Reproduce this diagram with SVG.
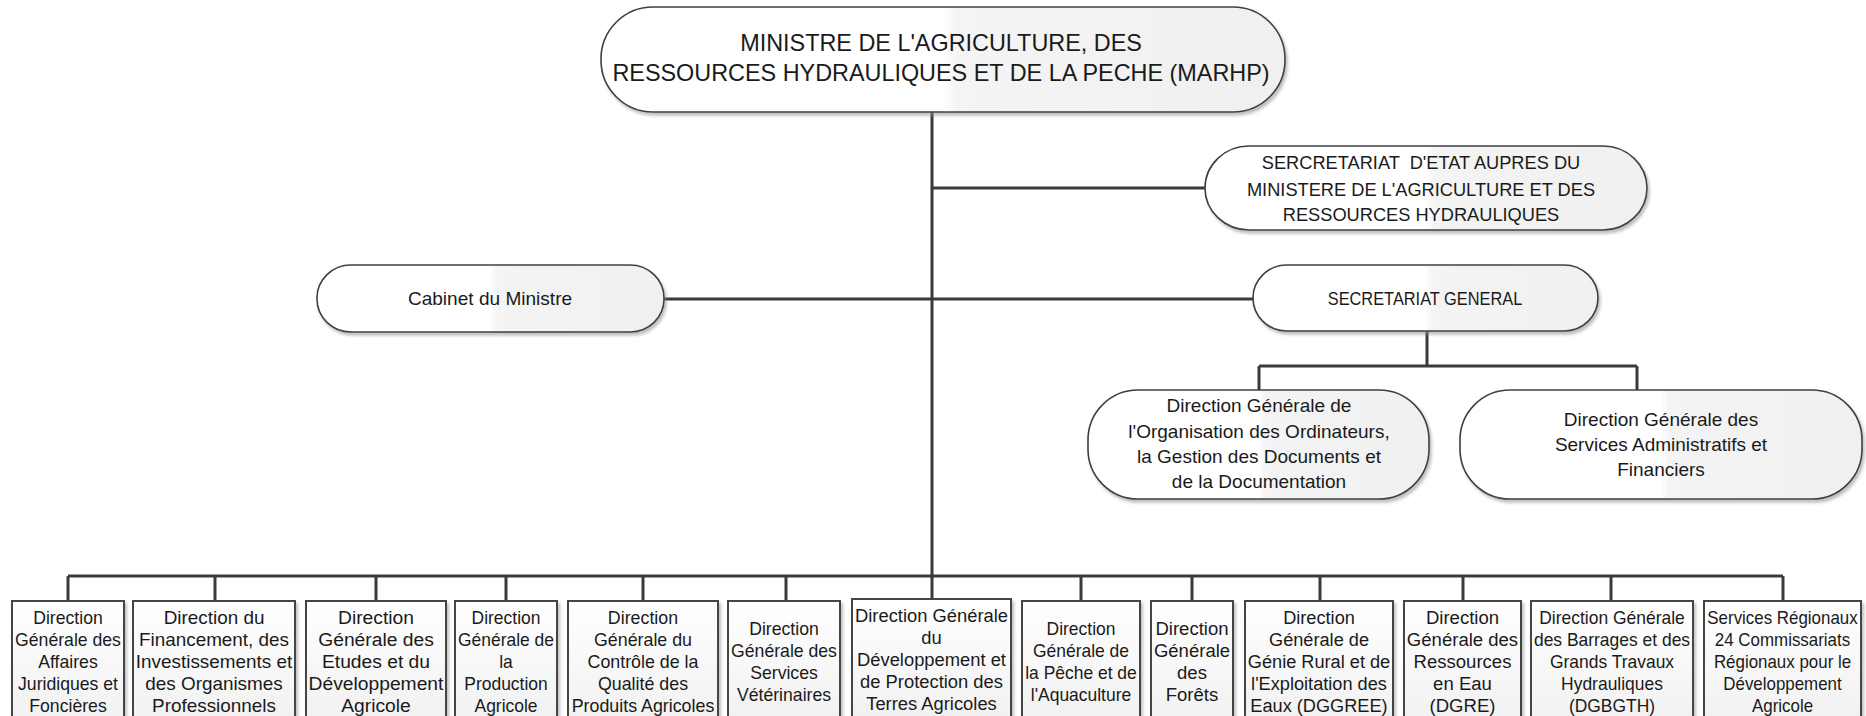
<svg xmlns="http://www.w3.org/2000/svg" width="1866" height="716" viewBox="0 0 1866 716">
<defs>
<linearGradient id="gRound" x1="0" y1="0" x2="1" y2="0">
<stop offset="0" stop-color="#ffffff"/><stop offset="0.5" stop-color="#ffffff"/><stop offset="0.52" stop-color="#f4f4f4"/><stop offset="1" stop-color="#f0f0f0"/>
</linearGradient>
<linearGradient id="gBox" x1="0" y1="0" x2="0" y2="1">
<stop offset="0" stop-color="#ffffff"/><stop offset="1" stop-color="#f0f0f0"/>
</linearGradient>
<filter id="sh" x="-5%" y="-5%" width="112%" height="120%">
<feDropShadow dx="2" dy="3" stdDeviation="1.5" flood-color="#8a8a8a" flood-opacity="0.55"/>
</filter>
</defs>
<style>
.rnd{fill:url(#gRound);stroke:#3f3f3f;stroke-width:1.6;filter:url(#sh)}
.box{fill:url(#gBox);stroke:#444;stroke-width:2;filter:url(#sh)}
text{font-family:"Liberation Sans",Arial,sans-serif;fill:#1a1a1a;text-anchor:middle}
.t24{font-size:24px}
.t19{font-size:19px}
.t18{font-size:18px}
.con line{stroke:#3a3a3a;stroke-width:3;fill:none}
</style>
<rect x="0" y="0" width="1866" height="716" fill="#ffffff"/>

<g id="connectors" class="con">
<line x1="932" y1="112" x2="932" y2="577.5"/>
<line x1="932" y1="188" x2="1205" y2="188"/>
<line x1="664" y1="299" x2="1253" y2="299"/>
<line x1="1427" y1="331" x2="1427" y2="366"/>
<line x1="1259" y1="366" x2="1637" y2="366"/>
<line x1="1259" y1="366" x2="1259" y2="390"/>
<line x1="1637" y1="366" x2="1637" y2="390"/>
<line x1="68" y1="576" x2="1783" y2="576"/>
<line x1="68" y1="576" x2="68" y2="601"/>
<line x1="215" y1="576" x2="215" y2="601"/>
<line x1="376" y1="576" x2="376" y2="601"/>
<line x1="506" y1="576" x2="506" y2="601"/>
<line x1="643" y1="576" x2="643" y2="601"/>
<line x1="786" y1="576" x2="786" y2="601"/>
<line x1="932" y1="576" x2="932" y2="599"/>
<line x1="1081" y1="576" x2="1081" y2="601"/>
<line x1="1192" y1="576" x2="1192" y2="601"/>
<line x1="1320" y1="576" x2="1320" y2="601"/>
<line x1="1463" y1="576" x2="1463" y2="601"/>
<line x1="1611" y1="576" x2="1611" y2="601"/>
<line x1="1783" y1="576" x2="1783" y2="601"/>
</g>

<g id="n-ministre">
<rect class="rnd" x="601" y="7" width="684" height="105" rx="52" ry="52"/>
<g transform="translate(941,0) scale(0.975,1)">
<text class="t24" x="0" y="51">MINISTRE DE L'AGRICULTURE, DES</text>
<text class="t24" x="0" y="81">RESSOURCES HYDRAULIQUES ET DE LA PECHE (MARHP)</text>
</g>
</g>

<g id="n-secretariat-etat">
<rect class="rnd" x="1205" y="146" width="442" height="84" rx="44" ry="42"/>
<g transform="translate(1421,0) scale(0.96,1)">
<text class="t19" x="0" y="169.5" xml:space="preserve">SERCRETARIAT  D'ETAT AUPRES DU</text>
<text class="t19" x="0" y="196">MINISTERE DE L'AGRICULTURE ET DES</text>
<text class="t19" x="0" y="221.5">RESSOURCES HYDRAULIQUES</text>
</g>
</g>

<g id="n-cabinet">
<rect class="rnd" x="317" y="265" width="347" height="67" rx="34" ry="33"/>
<g transform="translate(490,0) scale(1.06,1)">
<text class="t18" x="0" y="305.5">Cabinet du Ministre</text>
</g>
</g>

<g id="n-sg">
<rect class="rnd" x="1253" y="265" width="345" height="66" rx="34" ry="33"/>
<g transform="translate(1425,0) scale(0.91,1)">
<text class="t18" x="0" y="305.5">SECRETARIAT GENERAL</text>
</g>
</g>

<g id="n-dg-organisation">
<rect class="rnd" x="1088" y="390" width="341" height="109" rx="50" ry="50"/>
<g transform="translate(1259,0)">
<text class="t19" x="0" y="411.5">Direction Générale de</text>
<text class="t19" x="0" y="437.5">l'Organisation des Ordinateurs,</text>
<text class="t19" x="0" y="462.5">la Gestion des Documents et</text>
<text class="t19" x="0" y="487.5">de la Documentation</text>
</g>
</g>

<g id="n-dg-services-admin">
<rect class="rnd" x="1460" y="390" width="402" height="109" rx="50" ry="50"/>
<g transform="translate(1661,0)">
<text class="t19" x="0" y="425.5">Direction Générale des</text>
<text class="t19" x="0" y="450.5">Services Administratifs et</text>
<text class="t19" x="0" y="475.5">Financiers</text>
</g>
</g>

<g id="b1">
<rect class="box" x="12" y="601" width="112" height="130"/>
<g transform="translate(68,0) scale(0.98,1)">
<text class="t18" x="0" y="624.5">Direction</text>
<text class="t18" x="0" y="646.5">Générale des</text>
<text class="t18" x="0" y="668.5">Affaires</text>
<text class="t18" x="0" y="690.5">Juridiques et</text>
<text class="t18" x="0" y="712.5">Foncières</text>
</g>
</g>

<g id="b2">
<rect class="box" x="133" y="601" width="162" height="130"/>
<g transform="translate(214,0) scale(1.05,1)">
<text class="t18" x="0" y="624.5">Direction du</text>
<text class="t18" x="0" y="646.5">Financement, des</text>
<text class="t18" x="0" y="668.5">Investissements et</text>
<text class="t18" x="0" y="690.5">des Organismes</text>
<text class="t18" x="0" y="712.5">Professionnels</text>
</g>
</g>

<g id="b3">
<rect class="box" x="306" y="601" width="140" height="130"/>
<g transform="translate(376,0) scale(1.07,1)">
<text class="t18" x="0" y="624.5">Direction</text>
<text class="t18" x="0" y="646.5">Générale des</text>
<text class="t18" x="0" y="668.5">Etudes et du</text>
<text class="t18" x="0" y="690.5">Développement</text>
<text class="t18" x="0" y="712.5">Agricole</text>
</g>
</g>

<g id="b4">
<rect class="box" x="455" y="601" width="102" height="130"/>
<g transform="translate(506,0) scale(0.97,1)">
<text class="t18" x="0" y="624.5">Direction</text>
<text class="t18" x="0" y="646.5">Générale de</text>
<text class="t18" x="0" y="668.5">la</text>
<text class="t18" x="0" y="690.5">Production</text>
<text class="t18" x="0" y="712.5">Agricole</text>
</g>
</g>

<g id="b5">
<rect class="box" x="568" y="601" width="150" height="130"/>
<g transform="translate(643,0) scale(0.99,1)">
<text class="t18" x="0" y="624.5">Direction</text>
<text class="t18" x="0" y="646.5">Générale du</text>
<text class="t18" x="0" y="668.5">Contrôle de la</text>
<text class="t18" x="0" y="690.5">Qualité des</text>
<text class="t18" x="0" y="712.5">Produits Agricoles</text>
</g>
</g>

<g id="b6">
<rect class="box" x="728" y="601" width="112" height="130"/>
<g transform="translate(784,0) scale(0.98,1)">
<text class="t18" x="0" y="635.5">Direction</text>
<text class="t18" x="0" y="657.5">Générale des</text>
<text class="t18" x="0" y="679.5">Services</text>
<text class="t18" x="0" y="701.5">Vétérinaires</text>
</g>
</g>

<g id="b7">
<rect class="box" x="852" y="599" width="159" height="130"/>
<g transform="translate(931.5,0) scale(1.02,1)">
<text class="t18" x="0" y="622.5">Direction Générale</text>
<text class="t18" x="0" y="644.5">du</text>
<text class="t18" x="0" y="666.5">Développement et</text>
<text class="t18" x="0" y="688.5">de Protection des</text>
<text class="t18" x="0" y="710.5">Terres Agricoles</text>
</g>
</g>

<g id="b8">
<rect class="box" x="1022" y="601" width="118" height="130"/>
<g transform="translate(1081,0) scale(0.97,1)">
<text class="t18" x="0" y="635.5">Direction</text>
<text class="t18" x="0" y="657.5">Générale de</text>
<text class="t18" x="0" y="679.5">la Pêche et de</text>
<text class="t18" x="0" y="701.5">l'Aquaculture</text>
</g>
</g>

<g id="b9">
<rect class="box" x="1151" y="601" width="82" height="130"/>
<g transform="translate(1192,0) scale(1.03,1)">
<text class="t18" x="0" y="635.5">Direction</text>
<text class="t18" x="0" y="657.5">Générale</text>
<text class="t18" x="0" y="679.5">des</text>
<text class="t18" x="0" y="701.5">Forêts</text>
</g>
</g>

<g id="b10">
<rect class="box" x="1245" y="601" width="148" height="130"/>
<g transform="translate(1319,0) scale(1.01,1)">
<text class="t18" x="0" y="624.5">Direction</text>
<text class="t18" x="0" y="646.5">Générale de</text>
<text class="t18" x="0" y="668.5">Génie Rural et de</text>
<text class="t18" x="0" y="690.5">l'Exploitation des</text>
<text class="t18" x="0" y="712.5">Eaux (DGGREE)</text>
</g>
</g>

<g id="b11">
<rect class="box" x="1404" y="601" width="117" height="130"/>
<g transform="translate(1462.5,0) scale(1.03,1)">
<text class="t18" x="0" y="624.5">Direction</text>
<text class="t18" x="0" y="646.5">Générale des</text>
<text class="t18" x="0" y="668.5">Ressources</text>
<text class="t18" x="0" y="690.5">en Eau</text>
<text class="t18" x="0" y="712.5">(DGRE)</text>
</g>
</g>

<g id="b12">
<rect class="box" x="1531" y="601" width="162" height="130"/>
<g transform="translate(1612,0) scale(0.97,1)">
<text class="t18" x="0" y="624.5">Direction Générale</text>
<text class="t18" x="0" y="646.5">des Barrages et des</text>
<text class="t18" x="0" y="668.5">Grands Travaux</text>
<text class="t18" x="0" y="690.5">Hydrauliques</text>
<text class="t18" x="0" y="712.5">(DGBGTH)</text>
</g>
</g>

<g id="b13">
<rect class="box" x="1704" y="601" width="157" height="130"/>
<g transform="translate(1782.5,0) scale(0.94,1)">
<text class="t18" x="0" y="624.5">Services Régionaux</text>
<text class="t18" x="0" y="646.5">24 Commissariats</text>
<text class="t18" x="0" y="668.5">Régionaux pour le</text>
<text class="t18" x="0" y="690.5">Développement</text>
<text class="t18" x="0" y="712.5">Agricole</text>
</g>
</g>
</svg>
